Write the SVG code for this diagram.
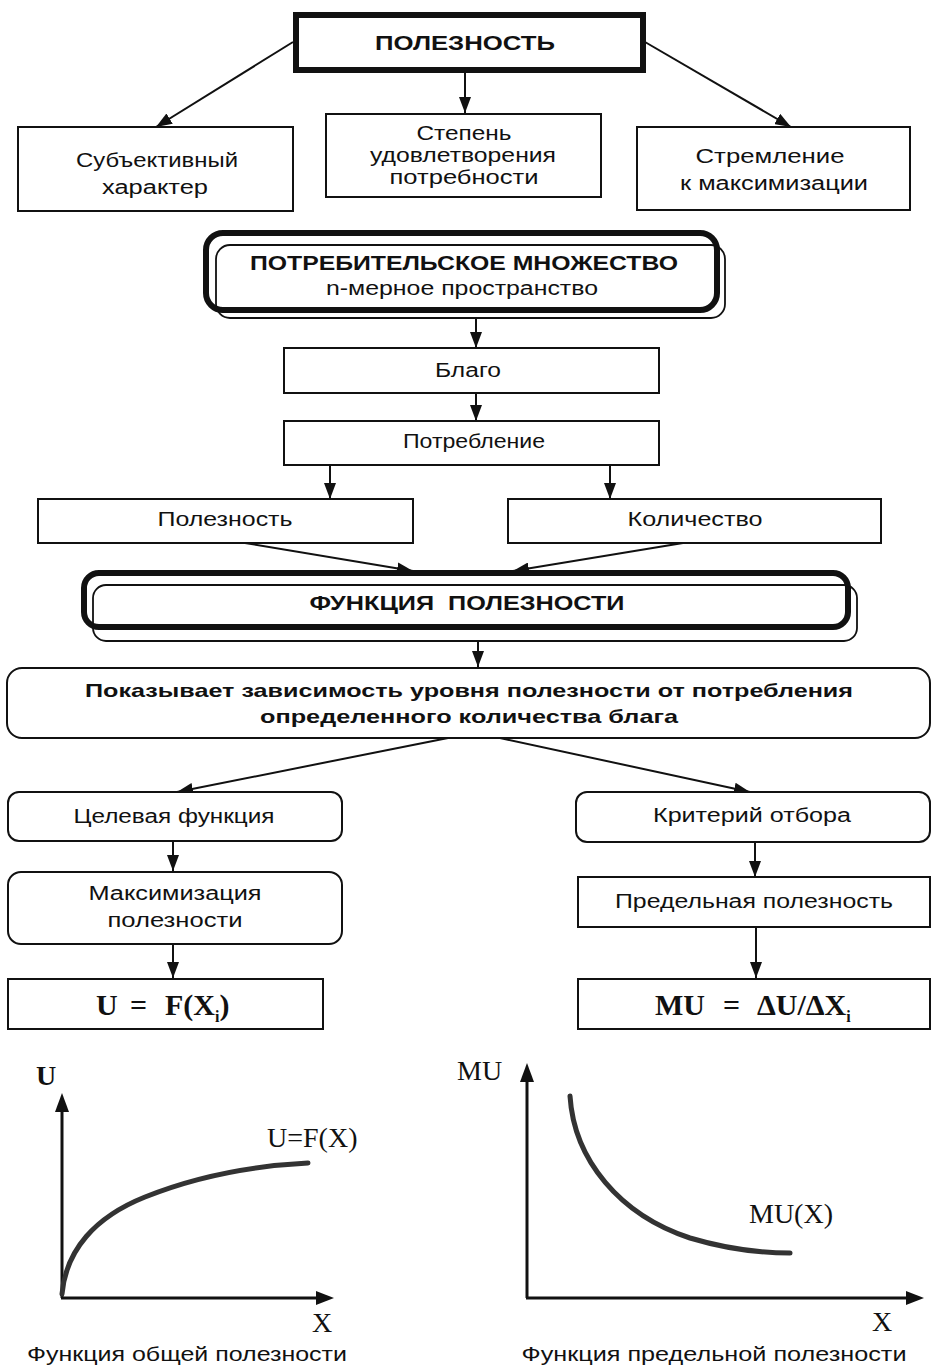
<svg xmlns="http://www.w3.org/2000/svg" width="933" height="1369" viewBox="0 0 933 1369">
  <style>
    .box { fill: #fff; stroke: #111; stroke-width: 2; }
    .heavy { fill: #fff; stroke: #111; stroke-width: 6; }
    .thin { fill: none; stroke: #111; stroke-width: 1.8; }
    .t { font-family: "Liberation Sans", Arial, sans-serif; font-size: 20px; fill: #111; text-anchor: middle; }
    .tb { font-family: "Liberation Sans", Arial, sans-serif; font-size: 21px; font-weight: bold; fill: #111; text-anchor: middle; }
    .tm { font-family: "Liberation Sans", Arial, sans-serif; font-size: 19px; font-weight: bold; fill: #111; text-anchor: middle; }
    .f { font-family: "Liberation Serif", "Times New Roman", serif; font-size: 30px; font-weight: bold; fill: #111; }
    .g { font-family: "Liberation Serif", "Times New Roman", serif; font-size: 28px; fill: #111; }
    .edge { stroke: #111; stroke-width: 2; fill: none; marker-end: url(#arrow); }
    .axis { stroke: #111; stroke-width: 3; fill: none; }
    .curve { stroke: #333; stroke-width: 5; fill: none; stroke-linecap: round; }
  </style>
  <defs>
    <marker id="arrow" markerUnits="userSpaceOnUse" markerWidth="16" markerHeight="12" refX="16" refY="6" orient="auto">
      <path d="M0,0 L16,6 L0,12 z" fill="#111"/>
    </marker>
  </defs>
  <rect width="933" height="1369" fill="#fff"/>

  <!-- connectors -->
  <g id="connectors">
    <line class="edge" x1="293" y1="42" x2="156" y2="127"/>
    <line class="edge" x1="465" y1="72" x2="465" y2="113"/>
    <line class="edge" x1="645" y1="42" x2="791" y2="127"/>
    <line class="edge" x1="476" y1="318" x2="476" y2="348"/>
    <line class="edge" x1="476" y1="393" x2="476" y2="421"/>
    <line class="edge" x1="330" y1="465" x2="330" y2="499"/>
    <line class="edge" x1="610" y1="465" x2="610" y2="499"/>
    <line class="edge" x1="245" y1="543" x2="413" y2="571"/>
    <line class="edge" x1="683" y1="543" x2="513" y2="571"/>
    <line class="edge" x1="478" y1="641" x2="478" y2="667"/>
    <line class="edge" x1="448" y1="738" x2="177" y2="792"/>
    <line class="edge" x1="500" y1="738" x2="750" y2="792"/>
    <line class="edge" x1="173" y1="841" x2="173" y2="871"/>
    <line class="edge" x1="173" y1="944" x2="173" y2="978"/>
    <line class="edge" x1="755" y1="842" x2="755" y2="877"/>
    <line class="edge" x1="756" y1="927" x2="756" y2="978"/>
  </g>

  <!-- top concept -->
  <g id="node-utility">
    <rect class="heavy" x="296" y="15" width="347" height="55"/>
    <text class="tb" x="465" y="50" textLength="180" lengthAdjust="spacingAndGlyphs">ПОЛЕЗНОСТЬ</text>
  </g>
  <g id="node-subjective">
    <rect class="box" x="18" y="127" width="275" height="84"/>
    <text class="t" x="157" y="167" textLength="162" lengthAdjust="spacingAndGlyphs">Субъективный</text>
    <text class="t" x="155" y="194" textLength="106" lengthAdjust="spacingAndGlyphs">характер</text>
  </g>
  <g id="node-degree">
    <rect class="box" x="326" y="114" width="275" height="83"/>
    <text class="t" x="464" y="140" textLength="95" lengthAdjust="spacingAndGlyphs">Степень</text>
    <text class="t" x="463" y="162" textLength="186" lengthAdjust="spacingAndGlyphs">удовлетворения</text>
    <text class="t" x="464" y="184" textLength="149" lengthAdjust="spacingAndGlyphs">потребности</text>
  </g>
  <g id="node-striving">
    <rect class="box" x="637" y="127" width="273" height="83"/>
    <text class="t" x="770" y="163" textLength="149" lengthAdjust="spacingAndGlyphs">Стремление</text>
    <text class="t" x="774" y="190" textLength="188" lengthAdjust="spacingAndGlyphs">к максимизации</text>
  </g>

  <!-- consumer set -->
  <g id="node-consumer-set">
    <rect class="heavy" x="206" y="233" width="511" height="77" rx="17"/>
    <rect class="thin" x="216" y="245" width="509" height="73" rx="14"/>
    <text class="tb" x="464" y="270" textLength="428" lengthAdjust="spacingAndGlyphs">ПОТРЕБИТЕЛЬСКОЕ МНОЖЕСТВО</text>
    <text class="t" x="462" y="295" textLength="272" lengthAdjust="spacingAndGlyphs">n-мерное пространство</text>
  </g>
  <g id="node-good">
    <rect class="box" x="284" y="348" width="375" height="45"/>
    <text class="t" x="468" y="377" textLength="66" lengthAdjust="spacingAndGlyphs">Благо</text>
  </g>
  <g id="node-consumption">
    <rect class="box" x="284" y="421" width="375" height="44"/>
    <text class="t" x="474" y="448" textLength="142" lengthAdjust="spacingAndGlyphs">Потребление</text>
  </g>
  <g id="node-usefulness">
    <rect class="box" x="38" y="499" width="375" height="44"/>
    <text class="t" x="225" y="526" textLength="135" lengthAdjust="spacingAndGlyphs">Полезность</text>
  </g>
  <g id="node-quantity">
    <rect class="box" x="508" y="499" width="373" height="44"/>
    <text class="t" x="695" y="526" textLength="135" lengthAdjust="spacingAndGlyphs">Количество</text>
  </g>

  <!-- utility function -->
  <g id="node-utility-function">
    <rect class="heavy" x="84" y="573" width="764" height="54" rx="15"/>
    <rect class="thin" x="93" y="585" width="764" height="56" rx="13"/>
    <text class="tb" x="467" y="610" textLength="315" lengthAdjust="spacingAndGlyphs" xml:space="preserve">ФУНКЦИЯ  ПОЛЕЗНОСТИ</text>
  </g>
  <g id="node-shows">
    <rect class="box" x="7" y="668" width="923" height="70" rx="15"/>
    <text class="tm" x="469" y="697" textLength="768" lengthAdjust="spacingAndGlyphs">Показывает зависимость уровня полезности от потребления</text>
    <text class="tm" x="469" y="723" textLength="418" lengthAdjust="spacingAndGlyphs">определенного количества блага</text>
  </g>

  <!-- left branch -->
  <g id="node-target">
    <rect class="box" x="8" y="792" width="334" height="49" rx="11"/>
    <text class="t" x="174" y="823" textLength="201" lengthAdjust="spacingAndGlyphs">Целевая функция</text>
  </g>
  <g id="node-maximization">
    <rect class="box" x="8" y="872" width="334" height="72" rx="13"/>
    <text class="t" x="175" y="900" textLength="173" lengthAdjust="spacingAndGlyphs">Максимизация</text>
    <text class="t" x="175" y="927" textLength="135" lengthAdjust="spacingAndGlyphs">полезности</text>
  </g>
  <g id="node-u-formula">
    <rect class="box" x="8" y="979" width="315" height="50"/>
    <text class="f" y="1015"><tspan x="96">U</tspan><tspan x="130">=</tspan><tspan x="165">F(X</tspan><tspan dy="7" font-size="16">i</tspan><tspan dy="-7">)</tspan></text>
  </g>

  <!-- right branch -->
  <g id="node-criterion">
    <rect class="box" x="576" y="792" width="354" height="50" rx="11"/>
    <text class="t" x="752" y="822" textLength="198" lengthAdjust="spacingAndGlyphs">Критерий отбора</text>
  </g>
  <g id="node-marginal">
    <rect class="box" x="578" y="877" width="352" height="50"/>
    <text class="t" x="754" y="908" textLength="278" lengthAdjust="spacingAndGlyphs">Предельная полезность</text>
  </g>
  <g id="node-mu-formula">
    <rect class="box" x="578" y="979" width="352" height="50"/>
    <text class="f" y="1015"><tspan x="655">MU</tspan><tspan x="723">=</tspan><tspan x="757">ΔU/ΔX</tspan><tspan dy="7" font-size="16">i</tspan></text>
  </g>

  <!-- total utility chart -->
  <g id="chart-total">
    <line class="axis" x1="62" y1="1298" x2="62" y2="1110"/>
    <path d="M55,1112 L62,1093 L69,1112 z" fill="#111"/>
    <line class="axis" x1="61" y1="1298" x2="318" y2="1298"/>
    <path d="M316,1291 L334,1298 L316,1305 z" fill="#111"/>
    <path class="curve" d="M62,1294 C66,1250 95,1217 145,1197 C195,1177 250,1166 308,1163"/>
    <text class="g" x="36" y="1085" font-weight="bold" font-size="26">U</text>
    <text class="g" x="267" y="1147">U=F(X)</text>
    <text class="g" x="312" y="1332" font-size="26">X</text>
    <text class="t" x="187" y="1361" textLength="320" lengthAdjust="spacingAndGlyphs">Функция общей полезности</text>
  </g>

  <!-- marginal utility chart -->
  <g id="chart-marginal">
    <line class="axis" x1="527" y1="1298" x2="527" y2="1080"/>
    <path d="M520,1082 L527,1063 L534,1082 z" fill="#111"/>
    <line class="axis" x1="526" y1="1298" x2="908" y2="1298"/>
    <path d="M906,1291 L924,1298 L906,1305 z" fill="#111"/>
    <path class="curve" d="M570,1096 C574,1160 620,1215 690,1238 C730,1250 765,1253 790,1253"/>
    <text class="g" x="457" y="1080" font-size="27">MU</text>
    <text class="g" x="749" y="1223" font-size="27">MU(X)</text>
    <text class="g" x="872" y="1331" font-size="26">X</text>
    <text class="t" x="714" y="1361" textLength="385" lengthAdjust="spacingAndGlyphs">Функция предельной полезности</text>
  </g>
</svg>
